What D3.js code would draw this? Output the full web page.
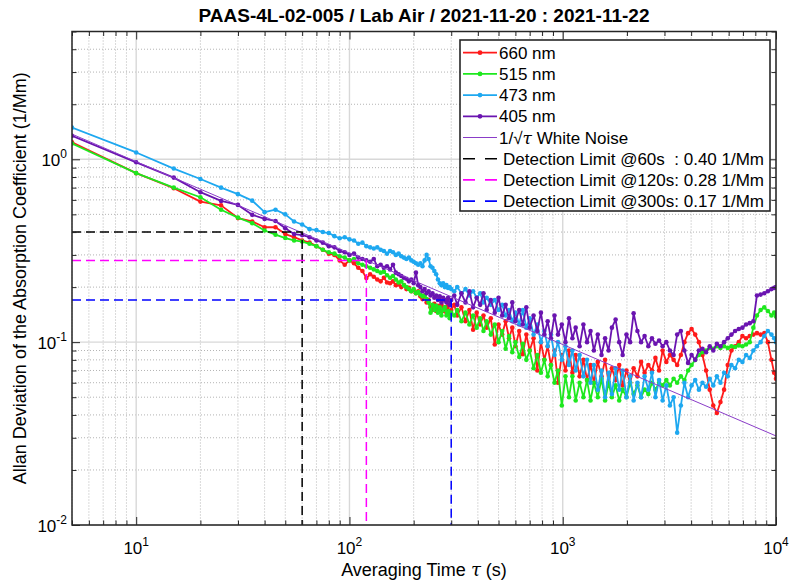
<!DOCTYPE html>
<html><head><meta charset="utf-8">
<script src="https://cdn.jsdelivr.net/npm/d3@7"></script>
<style>
body{margin:0;background:#fff}
svg{display:block}
text{font-family:"Liberation Sans",Arial,Helvetica,sans-serif;fill:#000}
</style>
</head><body>
<svg id="c" width="789" height="580"></svg>
<script>
// ---------- DATA ----------
const tau = [
 5,10,15,20,25,30,35,40,45,50,55,60,
 65,70,75,80,85,90,95,100,105,110,115,120,125,130,135,140,145,150,155,160,165,170,175,180,185,190,195,200,
 205,210,215,220,225,230,235,240,245,250,255,260,265,270,275,280,285,290,295,300,
 310,320,335,350,365,380,395,410,425,440,
 460,480,500,520,540,560,580,600,625,650,
 675,700,730,760,790,820,850,880,915,950,
 990,1030,1070,1110,1150,1200,1250,1300,1350,1400,
 1460,1520,1580,1640,1700,1770,1840,1910,1990,2070,
 2150,2240,2330,2420,2520,2620,2720,2830,2940,3060,
 3180,3310,3440,3580,3720,3870,4020,4180,4350,4520,
 4700,4890,5080,5280,5490,5710,5940,6180,6430,6690,
 6960,7240,7530,7830,8140,8470,8810,9160,9520,9800,
 10000
];
const val660 = [
 1.24,0.84,0.695,0.587,0.56,0.477,0.457,0.425,0.425,0.39,0.375,0.36,
 0.35,0.335,0.32,0.305,0.30,0.28,0.265,0.28,0.27,0.255,0.245,0.224,0.235,0.228,0.22,0.215,0.225,0.212,0.21,0.215,0.205,0.207,0.2,0.205,0.195,0.198,0.19,0.193,
 0.185,0.19,0.178,0.172,0.18,0.165,0.17,0.155,0.15,0.162,0.148,0.158,0.15,0.16,0.148,0.155,0.145,0.158,0.142,0.15,
 0.16,0.14,0.155,0.13,0.15,0.117,0.145,0.125,0.14,0.12,
 0.135,0.097,0.125,0.11,0.13,0.105,0.12,0.095,0.115,0.086,
 0.11,0.09,0.105,0.07,0.1,0.08,0.095,0.075,0.09,0.06,
 0.085,0.07,0.09,0.068,0.085,0.065,0.08,0.062,0.075,0.06,
 0.078,0.065,0.08,0.06,0.072,0.062,0.075,0.058,0.07,0.06,
 0.072,0.065,0.078,0.068,0.075,0.07,0.082,0.07,0.09,0.078,
 0.085,0.08,0.075,0.085,0.1,0.112,0.118,0.11,0.1,0.085,
 0.07,0.055,0.045,0.041,0.047,0.055,0.075,0.09,0.095,0.1,
 0.108,0.105,0.108,0.11,0.112,0.11,0.112,0.1,0.08,0.068,
 0.063
];
const val515 = [
 1.22,0.84,0.70,0.62,0.53,0.48,0.447,0.408,0.387,0.371,0.36,0.355,
 0.345,0.335,0.32,0.31,0.305,0.295,0.29,0.28,0.285,0.27,0.265,0.26,0.255,0.25,0.245,0.24,0.243,0.232,0.225,0.23,0.22,0.212,0.215,0.205,0.2,0.195,0.19,0.195,
 0.185,0.188,0.182,0.178,0.18,0.172,0.165,0.145,0.16,0.15,0.158,0.145,0.155,0.14,0.15,0.155,0.14,0.148,0.135,0.145,
 0.14,0.15,0.13,0.145,0.125,0.14,0.12,0.135,0.115,0.13,
 0.11,0.125,0.1,0.115,0.092,0.108,0.088,0.1,0.083,0.098,
 0.08,0.09,0.072,0.085,0.068,0.08,0.065,0.075,0.06,0.07,
 0.045,0.065,0.05,0.065,0.048,0.06,0.05,0.062,0.048,0.06,
 0.05,0.063,0.048,0.06,0.05,0.058,0.048,0.055,0.05,0.06,
 0.052,0.058,0.05,0.055,0.052,0.06,0.055,0.06,0.058,0.062,
 0.058,0.063,0.06,0.065,0.062,0.07,0.075,0.08,0.085,0.088,
 0.09,0.093,0.092,0.095,0.093,0.095,0.093,0.095,0.094,0.096,
 0.095,0.097,0.1,0.12,0.14,0.15,0.155,0.148,0.14,0.145,
 0.138
];
const val473 = [
 1.49,1.09,0.89,0.78,0.70,0.645,0.594,0.514,0.53,0.50,0.457,0.44,
 0.415,0.41,0.40,0.395,0.38,0.37,0.375,0.365,0.36,0.345,0.35,0.335,0.33,0.325,0.33,0.32,0.315,0.305,0.315,0.31,0.30,0.305,0.295,0.29,0.285,0.29,0.28,0.275,
 0.27,0.265,0.27,0.26,0.28,0.30,0.285,0.26,0.255,0.245,0.235,0.22,0.21,0.205,0.21,0.20,0.205,0.198,0.20,0.195,
 0.19,0.2,0.185,0.195,0.18,0.19,0.175,0.185,0.165,0.175,
 0.16,0.17,0.15,0.16,0.14,0.15,0.13,0.145,0.125,0.15,
 0.12,0.135,0.11,0.125,0.1,0.115,0.095,0.11,0.085,0.1,
 0.08,0.095,0.075,0.09,0.07,0.085,0.065,0.08,0.06,0.075,
 0.055,0.07,0.05,0.068,0.052,0.072,0.055,0.07,0.05,0.065,
 0.048,0.06,0.05,0.065,0.055,0.068,0.05,0.062,0.048,0.058,
 0.045,0.05,0.032,0.045,0.06,0.05,0.058,0.062,0.055,0.06,
 0.057,0.063,0.058,0.065,0.06,0.068,0.065,0.075,0.072,0.08,
 0.078,0.085,0.082,0.09,0.095,0.1,0.108,0.115,0.11,0.105,
 0.1
];
const val405 = [
 1.345,0.963,0.794,0.661,0.592,0.563,0.497,0.472,0.46,0.42,0.39,0.385,
 0.375,0.36,0.35,0.335,0.33,0.315,0.31,0.30,0.305,0.29,0.285,0.28,0.275,0.285,0.26,0.265,0.255,0.26,0.25,0.265,0.24,0.235,0.23,0.225,0.222,0.215,0.22,0.21,
 0.24,0.205,0.20,0.19,0.195,0.185,0.19,0.18,0.185,0.175,0.18,0.17,0.178,0.165,0.175,0.17,0.165,0.175,0.16,0.17,
 0.18,0.16,0.185,0.165,0.19,0.155,0.175,0.16,0.185,0.15,
 0.17,0.145,0.175,0.14,0.16,0.135,0.165,0.13,0.15,0.125,
 0.155,0.12,0.14,0.115,0.145,0.11,0.13,0.105,0.14,0.11,
 0.125,0.1,0.135,0.105,0.12,0.095,0.125,0.1,0.115,0.09,
 0.11,0.085,0.105,0.09,0.12,0.133,0.1,0.085,0.11,0.1,
 0.144,0.115,0.1,0.108,0.095,0.105,0.098,0.102,0.095,0.1,
 0.09,0.085,0.11,0.115,0.09,0.077,0.085,0.08,0.09,0.092,
 0.088,0.095,0.09,0.098,0.095,0.1,0.105,0.11,0.115,0.118,
 0.12,0.125,0.127,0.13,0.18,0.182,0.185,0.19,0.195,0.198,
 0.2
];
const seriesNames  = ["660 nm","515 nm","473 nm","405 nm"];
const seriesColors = ["#ff1a1a","#1ee81e","#1ea8f0","#6a14b0"];
const whiteNoiseTau = [5, 10000];
const whiteNoiseVal = [1.373, 0.0307];
const limitTau    = [60, 120, 300];
const limitVal    = [0.40, 0.28, 0.17];
const limitColors = ["#000000","#ff00ff","#0000ff"];
const limitLabels = ["Detection Limit @60s  : 0.40 1/Mm","Detection Limit @120s: 0.28 1/Mm","Detection Limit @300s: 0.17 1/Mm"];
const xMajor = [10,100,1000,10000];
const xExp   = ["1","2","3","4"];
const yMajor = [0.01,0.1,1];
const yExp   = ["-2","-1","0"];
const titleText = "PAAS-4L-02-005 / Lab Air / 2021-11-20 : 2021-11-22";

// ---------- LAYOUT ----------
const W=789,H=580,L=72,R=776,T=31.5,B=525;
const x=d3.scaleLog().domain([5,10000]).range([L,R]);
const y=d3.scaleLog().domain([0.01,5]).range([B,T]);
const svg=d3.select("#c");
svg.append("rect").attr("width",W).attr("height",H).attr("fill","#fff");

const isMajor=v=>Math.abs(Math.log10(v)-Math.round(Math.log10(v)))<1e-9;
const xAll=x.ticks(), yAll=y.ticks();
const xMin=xAll.filter(v=>!isMajor(v)), yMin=yAll.filter(v=>!isMajor(v));
const xMaj=xAll.filter(isMajor), yMaj=yAll.filter(isMajor);

const grid=svg.append("g");
grid.selectAll(".gxm").data(xMin).join("line")
 .attr("x1",d=>x(d)).attr("x2",d=>x(d)).attr("y1",T).attr("y2",B)
 .attr("stroke","#b4b4b4").attr("stroke-width",1).attr("stroke-dasharray","1,2");
grid.selectAll(".gym").data(yMin).join("line")
 .attr("y1",d=>y(d)).attr("y2",d=>y(d)).attr("x1",L).attr("x2",R)
 .attr("stroke","#b4b4b4").attr("stroke-width",1).attr("stroke-dasharray","1,2");
grid.selectAll(".gxM").data(xMaj).join("line")
 .attr("x1",d=>x(d)).attr("x2",d=>x(d)).attr("y1",T).attr("y2",B)
 .attr("stroke","#d8d8d8").attr("stroke-width",1.4);
grid.selectAll(".gyM").data(yMaj).join("line")
 .attr("y1",d=>y(d)).attr("y2",d=>y(d)).attr("x1",L).attr("x2",R)
 .attr("stroke","#d8d8d8").attr("stroke-width",1.4);

svg.append("clipPath").attr("id","clip").append("rect")
 .attr("x",L).attr("y",T).attr("width",R-L).attr("height",B-T);
const plot=svg.append("g").attr("clip-path","url(#clip)");

const line=d3.line().x(d=>x(d[0])).y(d=>y(d[1]));
const seriesVals=[val660,val515,val473,val405];
seriesVals.forEach((vals,i)=>{
  const pts=d3.zip(tau,vals);
  const g=plot.append("g");
  g.append("path").datum(pts).attr("d",line).attr("fill","none")
   .attr("stroke",seriesColors[i]).attr("stroke-width",1.8).attr("stroke-linejoin","round");
  g.selectAll("circle").data(pts).join("circle")
   .attr("cx",d=>x(d[0])).attr("cy",d=>y(d[1])).attr("r",2.3)
   .attr("fill",seriesColors[i]);
});
// white noise
plot.append("path").datum(d3.zip(whiteNoiseTau,whiteNoiseVal)).attr("d",line)
 .attr("fill","none").attr("stroke","#8a3cc8").attr("stroke-width",1);
// detection limits
limitTau.forEach((t,i)=>{
  const pts=[[5,limitVal[i]],[t,limitVal[i]],[t,0.01]];
  plot.append("path").datum(pts).attr("d",line).attr("fill","none")
   .attr("stroke",limitColors[i]).attr("stroke-width",1.5).attr("stroke-dasharray","9,5");
});

// ---------- AXES ----------
const axc="#262626";
function addAxis(gen,tr){ const g=svg.append("g").attr("transform",tr).call(gen);
  g.select(".domain").remove(); g.selectAll("line").attr("stroke",axc).attr("stroke-width",1); g.selectAll("text").remove(); }
addAxis(d3.axisBottom(x).tickValues(xMaj).tickSize(-8),`translate(0,${B})`);
addAxis(d3.axisBottom(x).tickValues(xMin).tickSize(-4.5),`translate(0,${B})`);
addAxis(d3.axisTop(x).tickValues(xMaj).tickSize(-8),`translate(0,${T})`);
addAxis(d3.axisTop(x).tickValues(xMin).tickSize(-4.5),`translate(0,${T})`);
addAxis(d3.axisLeft(y).tickValues(yMaj).tickSize(-8),`translate(${L},0)`);
addAxis(d3.axisLeft(y).tickValues(yMin).tickSize(-4.5),`translate(${L},0)`);
addAxis(d3.axisRight(y).tickValues(yMaj).tickSize(-8),`translate(${R},0)`);
addAxis(d3.axisRight(y).tickValues(yMin).tickSize(-4.5),`translate(${R},0)`);
svg.append("rect").attr("x",L).attr("y",T).attr("width",R-L).attr("height",B-T)
 .attr("fill","none").attr("stroke",axc).attr("stroke-width",1.5);

// tick labels
xMajor.forEach((v,i)=>{
  const t=svg.append("text").attr("x",x(v)).attr("y",554).attr("text-anchor","middle").attr("font-size",17);
  t.append("tspan").text("10");
  t.append("tspan").attr("dy",-8).attr("font-size",12).text(xExp[i]);
});
yMajor.forEach((v,i)=>{
  const t=svg.append("text").attr("x",67).attr("y",y(v)+7).attr("text-anchor","end").attr("font-size",17);
  t.append("tspan").text("10");
  t.append("tspan").attr("dy",-8).attr("font-size",12).text(yExp[i]);
});

// titles
svg.append("text").attr("x",(L+R)/2).attr("y",22).attr("text-anchor","middle")
 .attr("font-size",19).attr("font-weight","bold").text(titleText);
const xl=svg.append("text").attr("x",(L+R)/2).attr("y",576).attr("text-anchor","middle").attr("font-size",18);
xl.append("tspan").text("Averaging Time ");
xl.append("tspan").attr("font-family","'DejaVu Serif','Liberation Serif',serif").attr("font-style","italic").text("τ");
xl.append("tspan").text(" (s)");
svg.append("text").attr("transform",`translate(26,${(T+B)/2}) rotate(-90)`).attr("text-anchor","middle")
 .attr("font-size",18).text("Allan Deviation of the Absorption Coefficient (1/Mm)");

// ---------- LEGEND ----------
const lg=svg.append("g");
lg.append("rect").attr("x",460).attr("y",40).attr("width",310).attr("height",171)
 .attr("fill","#fff").attr("stroke","#262626").attr("stroke-width",1.6);
const rowY=i=>52.7+i*21.2;
const lx1=463,lx2=497,tx=499;
seriesNames.forEach((n,i)=>{
  lg.append("line").attr("x1",lx1).attr("x2",lx2).attr("y1",rowY(i)).attr("y2",rowY(i))
   .attr("stroke",seriesColors[i]).attr("stroke-width",1.8);
  lg.append("circle").attr("cx",(lx1+lx2)/2).attr("cy",rowY(i)).attr("r",2.4).attr("fill",seriesColors[i]);
  lg.append("text").attr("x",tx).attr("y",rowY(i)+6).attr("font-size",17).text(n);
});
lg.append("line").attr("x1",lx1).attr("x2",lx2).attr("y1",rowY(4)).attr("y2",rowY(4))
 .attr("stroke","#8a3cc8").attr("stroke-width",1);
const wn=lg.append("text").attr("x",tx).attr("y",rowY(4)+6).attr("font-size",17);
wn.append("tspan").text("1/√");
wn.append("tspan").attr("font-family","'DejaVu Serif','Liberation Serif',serif").attr("font-style","italic").text("τ");
wn.append("tspan").text(" White Noise");
limitLabels.forEach((n,i)=>{
  const r=rowY(5+i);
  lg.append("line").attr("x1",lx1).attr("x2",lx2).attr("y1",r).attr("y2",r)
   .attr("stroke",limitColors[i]).attr("stroke-width",1.6).attr("stroke-dasharray","12,10");
  lg.append("text").attr("x",tx+4).attr("y",r+6).attr("font-size",17)
   .style("white-space","pre").text(n);
});
</script>
</body></html>
